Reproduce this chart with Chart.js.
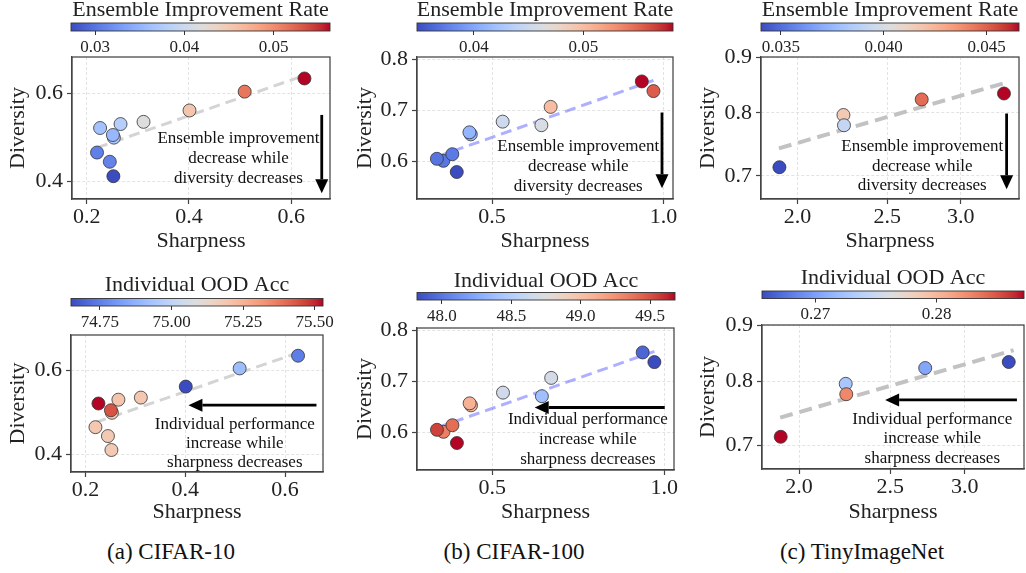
<!DOCTYPE html>
<html>
<head>
<meta charset="utf-8">
<script src="https://cdn.jsdelivr.net/npm/chart.js@4"></script>
<style>
html,body{margin:0;padding:0;background:#fff;width:1026px;height:573px;overflow:hidden;}
body{position:relative;font-family:'Liberation Serif','Times New Roman',serif;}
canvas{position:absolute;}
.cap{position:absolute;font-size:23px;color:#111;transform:translate(-50%,-50%);white-space:nowrap;font-family:'Liberation Serif','Times New Roman',serif;}
</style>
</head>
<body>
<div class="cap" style="left:171px;top:552px">(a) CIFAR-10</div>
<div class="cap" style="left:514px;top:552px">(b) CIFAR-100</div>
<div class="cap" style="left:862px;top:552px">(c) TinyImageNet</div>
<script>
// ---------------- DATA ----------------
// CIFAR-10
const cifar10Sharpness = [0.626, 0.509, 0.401, 0.311, 0.266, 0.226, 0.253, 0.251, 0.220, 0.245, 0.252];
const cifar10Diversity = [0.634, 0.604, 0.561, 0.535, 0.530, 0.521, 0.499, 0.505, 0.465, 0.444, 0.411];
const cifar10EnsembleRate = [0.0563, 0.0514, 0.0453, 0.0418, 0.0380, 0.0364, 0.0372, 0.0354, 0.0308, 0.0310, 0.0273];
const cifar10OodAcc = [74.75, 74.91, 74.649, 75.19, 75.20, 75.529, 75.19, 75.44, 75.19, 75.18, 75.18];
const cifar10TrendSharpness = [0.220, 0.626];
const cifar10TrendDiversity = [0.476, 0.641];
const cifar10XTicks = [0.2, 0.4, 0.6];
const cifar10YTicks = [0.4, 0.6];
const cifar10EnsTicks = [0.03, 0.04, 0.05];
const cifar10OodTicks = [74.75, 75.00, 75.25, 75.50];

// CIFAR-100
const cifar100Sharpness = [0.937, 0.971, 0.671, 0.531, 0.644, 0.438, 0.434, 0.358, 0.339, 0.384, 0.397];
const cifar100Diversity = [0.757, 0.738, 0.707, 0.678, 0.671, 0.653, 0.657, 0.601, 0.605, 0.614, 0.579];
const cifar100EnsembleRate = [0.0582, 0.0554, 0.0500, 0.0451, 0.0460, 0.0411, 0.0411, 0.0371, 0.0370, 0.0373, 0.0348];
const cifar100OodAcc = [47.93, 47.82, 48.69, 48.66, 48.38, 49.10, 49.10, 49.33, 49.55, 49.40, 49.68];
const cifar100TrendSharpness = [0.339, 0.971];
const cifar100TrendDiversity = [0.609, 0.759];
const cifar100XTicks = [0.5, 1.0];
const cifar100YTicks = [0.6, 0.7, 0.8];
const cifar100EnsTicks = [0.04, 0.05];
const cifar100OodTicks = [48.0, 48.5, 49.0, 49.5];

// TinyImageNet
const tinySharpness = [1.9125, 2.242, 2.245, 2.723, 3.340];
const tinyDiversity = [0.7130, 0.7962, 0.7791, 0.8228, 0.8332];
const tinyEnsembleRate = [0.03404, 0.0416, 0.0392, 0.0447, 0.04657];
const tinyOodAcc = [0.2872, 0.2727, 0.2827, 0.2704, 0.2656];
const tinyTrendSharpness = [1.91, 3.38];
const tinyTrendDiversity = [0.742, 0.854];
const tinyXTicks = [2.0, 2.5, 3.0];
const tinyYTicks = [0.7, 0.8, 0.9];
const tinyEnsTicks = [0.035, 0.040, 0.045];
const tinyOodTicks = [0.27, 0.28];

// ---------------- STYLE ----------------
const FONT = "'Liberation Serif','Times New Roman',serif";
Chart.defaults.font.family = FONT;
Chart.defaults.color = '#222';

const coolwarmTable = [
 [59,76,192],[68,90,204],[77,104,215],[87,117,225],[98,130,234],[108,142,241],[119,154,247],[130,165,251],
 [141,176,254],[152,185,255],[163,194,255],[174,201,253],[184,208,249],[194,213,244],[204,217,238],[213,219,230],
 [221,221,221],[229,216,209],[236,211,197],[241,204,184],[245,196,172],[247,187,160],[247,177,148],[247,166,135],
 [244,154,123],[241,141,111],[236,127,99],[229,112,88],[222,96,77],[213,80,66],[203,62,56],[192,40,47],[180,4,38]
];
function coolwarm(t){
  t = Math.max(0, Math.min(1, t));
  const n = coolwarmTable.length - 1;
  const f = t * n;
  const i = Math.min(Math.floor(f), n - 1);
  const r = f - i;
  const a = coolwarmTable[i], b = coolwarmTable[i + 1];
  return 'rgb(' + [0,1,2].map(k => Math.round(a[k] + (b[k] - a[k]) * r)).join(',') + ')';
}

const boxPlugin = {
  id: 'box',
  afterDraw(chart) {
    const a = chart.chartArea, ctx = chart.ctx;
    ctx.save();
    ctx.strokeStyle = '#444';
    ctx.lineWidth = 1.25;
    ctx.setLineDash([]);
    ctx.strokeRect(a.left, a.top, a.right - a.left, a.bottom - a.top);
    ctx.restore();
  }
};

function drawArrow(ctx, x1, y1, x2, y2) {
  const ang = Math.atan2(y2 - y1, x2 - x1);
  const hl = 14, hw = 6.5;
  const bx = x2 - hl * Math.cos(ang), by = y2 - hl * Math.sin(ang);
  ctx.save();
  ctx.strokeStyle = '#000'; ctx.fillStyle = '#000';
  ctx.lineWidth = 2.8;
  ctx.beginPath(); ctx.moveTo(x1, y1); ctx.lineTo(bx, by); ctx.stroke();
  ctx.beginPath();
  ctx.moveTo(x2, y2);
  ctx.lineTo(bx + hw * Math.sin(ang), by - hw * Math.cos(ang));
  ctx.lineTo(bx - hw * Math.sin(ang), by + hw * Math.cos(ang));
  ctx.closePath(); ctx.fill();
  ctx.restore();
}

const notePlugin = {
  id: 'note',
  afterDraw(chart, args, opts) {
    if (!opts || !opts.lines) return;
    const a = chart.chartArea, ctx = chart.ctx;
    const w = a.right - a.left, h = a.bottom - a.top;
    drawArrow(ctx, a.left + opts.arrow[0] * w, a.top + opts.arrow[1] * h,
                   a.left + opts.arrow[2] * w, a.top + opts.arrow[3] * h);
    ctx.save();
    ctx.font = '17px ' + FONT;
    ctx.fillStyle = '#111';
    ctx.textAlign = 'center';
    ctx.textBaseline = 'middle';
    opts.lines.forEach((s, i) => {
      ctx.fillText(s, a.left + opts.tx * w, a.top + opts.ty * h + i * opts.lh);
    });
    ctx.restore();
  }
};

const colorbarPlugin = {
  id: 'cbar',
  afterDraw(chart, args, opts) {
    const a = chart.chartArea, ctx = chart.ctx;
    ctx.save();
    const g = ctx.createLinearGradient(a.left, 0, a.right, 0);
    coolwarmTable.forEach((c, i) => g.addColorStop(i / (coolwarmTable.length - 1), 'rgb(' + c.join(',') + ')'));
    ctx.fillStyle = g;
    ctx.fillRect(a.left, a.top, a.right - a.left, a.bottom - a.top);
    ctx.strokeStyle = '#333';
    ctx.lineWidth = 0.9;
    ctx.strokeRect(a.left, a.top, a.right - a.left, a.bottom - a.top);
    ctx.font = '22px ' + FONT;
    ctx.fillStyle = '#222';
    ctx.textAlign = 'center';
    ctx.textBaseline = 'middle';
    ctx.fillText(opts.title, (a.left + a.right) / 2, opts.titleY);
    ctx.restore();
  }
};

function addCanvas(left, top, w, h) {
  const c = document.createElement('canvas');
  c.width = w; c.height = h;
  c.style.left = left + 'px'; c.style.top = top + 'px';
  c.style.width = w + 'px'; c.style.height = h + 'px';
  document.body.appendChild(c);
  return c;
}

function makeColorbar(rect, values, ticks, decimals, title, titleY) {
  const [L, T, R, B] = rect;
  const cl = Math.floor(L) - 30, ct = Math.floor(titleY) - 16;
  const W = Math.ceil(R - cl + 30), H = Math.ceil(B - ct + 30);
  const c = addCanvas(cl, ct, W, H);
  new Chart(c, {
    type: 'scatter',
    data: { datasets: [] },
    options: {
      responsive: false, animation: false, events: [],
      layout: { padding: { left: L - cl, right: W - (R - cl), top: T - ct, bottom: 0 } },
      plugins: { legend: { display: false }, tooltip: { enabled: false },
                 cbar: { title: title, titleY: titleY - ct } },
      scales: {
        x: {
          type: 'linear', position: 'bottom', bounds: 'data',
          min: Math.min(...values), max: Math.max(...values),
          afterBuildTicks: s => { s.ticks = ticks.map(v => ({ value: v })); },
          afterFit: s => { s.height = H - (B - ct); },
          ticks: { callback: v => Number(v).toFixed(decimals), font: { size: 17 }, padding: 2,
                   maxRotation: 0, autoSkip: false, color: '#222' },
          grid: { display: true, drawOnChartArea: false, drawTicks: true, tickLength: 4,
                  color: '#333', tickColor: '#333', tickWidth: 1 },
          border: { display: false }
        },
        y: { display: false, min: 0, max: 1 }
      }
    },
    plugins: [colorbarPlugin]
  });
}

function makeScatter(spec) {
  const [L, T, R, B] = spec.plot;
  const cl = Math.floor(spec.ylabX - 13.2) - 1;
  const padL = spec.ylabX - 13.2 - cl;
  const yw = L - cl - padL;
  const ct = T - 18;
  const xh = spec.xlabY + 13.2 - B;
  const W = Math.ceil(R - cl + 12);
  const H = Math.ceil(B - ct + xh + 4);
  const padR = W - (R - cl);
  const padB = H - (B - ct) - xh;
  const c = addCanvas(cl, ct, W, H);
  const cmin = Math.min(...spec.c), cmax = Math.max(...spec.c);
  const pts = spec.x.map((x, i) => ({ x: x, y: spec.y[i] }));
  const cols = spec.c.map(v => coolwarm((v - cmin) / (cmax - cmin)));
  const axisCommon = (ticks, title, fit) => ({
    type: spec.scaleType, bounds: 'data',
    afterBuildTicks: s => { s.ticks = ticks.map(v => ({ value: v })); },
    afterFit: fit,
    ticks: { callback: v => Number(v).toFixed(1), font: { size: 22 }, maxRotation: 0, autoSkip: false, color: '#222' },
    grid: { color: '#dcdcdc', lineWidth: 0.8, tickLength: 5, tickColor: '#444', tickWidth: 1.2 },
    border: { display: true, color: '#444', width: 1.2, dash: [3, 2] },
    title: { display: true, text: title, font: { size: 22 }, padding: 0, color: '#222' }
  });
  const xs = axisCommon(spec.xTicks, 'Sharpness', s => { s.height = xh; });
  xs.min = spec.xRange[0]; xs.max = spec.xRange[1]; xs.ticks.padding = 0;
  const ys = axisCommon(spec.yTicks, 'Diversity', s => { s.width = yw; });
  ys.min = spec.yRange[0]; ys.max = spec.yRange[1]; ys.ticks.padding = 4;
  new Chart(c, {
    type: 'scatter',
    data: {
      datasets: [
        { data: pts, backgroundColor: cols, borderColor: '#333', borderWidth: 0.8,
          pointRadius: 6.5, order: 0 },
        { data: spec.trendX.map((x, i) => ({ x: x, y: spec.trendY[i] })), showLine: true,
          borderColor: spec.trendColor, borderWidth: spec.trendWidth, borderDash: spec.trendDash,
          pointRadius: 0, fill: false, order: 1 }
      ]
    },
    options: {
      responsive: false, animation: false, events: [],
      layout: { padding: { left: padL, right: padR, top: T - ct, bottom: padB } },
      plugins: { legend: { display: false }, tooltip: { enabled: false }, note: spec.note },
      scales: { x: xs, y: ys }
    },
    plugins: [boxPlugin, notePlugin]
  });
  makeColorbar(spec.cb, spec.c, spec.cTicks, spec.cDecimals, spec.cTitle, spec.cbTitleY);
}

const topLines = ['Ensemble improvement', 'decrease while', 'diversity decreases'];
const botLines = ['Individual performance', 'increase while', 'sharpness decreases'];
const ENS = 'Ensemble Improvement Rate', OOD = 'Individual OOD Acc';

const panelA = { x: cifar10Sharpness, y: cifar10Diversity, trendX: cifar10TrendSharpness, trendY: cifar10TrendDiversity,
  xTicks: cifar10XTicks, yTicks: cifar10YTicks, xRange: [0.171, 0.676], yRange: [0.359, 0.683], scaleType: 'linear',
  trendColor: '#d4d4d4', trendWidth: 3, trendDash: [11, 6] };
const panelB = { x: cifar100Sharpness, y: cifar100Diversity, trendX: cifar100TrendSharpness, trendY: cifar100TrendDiversity,
  xTicks: cifar100XTicks, yTicks: cifar100YTicks, xRange: [0.281, 1.028], yRange: [0.526, 0.805], scaleType: 'linear',
  trendColor: 'rgba(95,95,255,0.5)', trendWidth: 3, trendDash: [11, 6] };
const panelC = { x: tinySharpness, y: tinyDiversity, trendX: tinyTrendSharpness, trendY: tinyTrendDiversity,
  xTicks: tinyXTicks, yTicks: tinyYTicks, xRange: [1.827, 3.467], yRange: [0.6667, 0.9], scaleType: 'logarithmic',
  trendColor: '#c2c2c2', trendWidth: 4, trendDash: [13, 7] };

makeScatter(Object.assign({}, panelA, { plot: [72, 57, 330, 199], ylabX: 18.3, xlabY: 241,
  c: cifar10EnsembleRate, cTicks: cifar10EnsTicks, cDecimals: 2, cTitle: ENS, cb: [71, 23, 330, 31], cbTitleY: 10,
  note: { lines: topLines, tx: 0.645, ty: 0.573, lh: 20, arrow: [0.968, 0.408, 0.968, 0.96] } }));
makeScatter(Object.assign({}, panelB, { plot: [417, 57, 673, 199], ylabX: 365, xlabY: 241,
  c: cifar100EnsembleRate, cTicks: cifar100EnsTicks, cDecimals: 2, cTitle: ENS, cb: [417, 23, 673, 31], cbTitleY: 10,
  note: { lines: topLines, tx: 0.63, ty: 0.631, lh: 19.8, arrow: [0.957, 0.391, 0.957, 0.924] } }));
makeScatter(Object.assign({}, panelC, { plot: [761, 57, 1019, 199], ylabX: 708.3, xlabY: 241,
  c: tinyEnsembleRate, cTicks: tinyEnsTicks, cDecimals: 3, cTitle: ENS, cb: [761, 23, 1019, 31], cbTitleY: 10,
  note: { lines: topLines, tx: 0.625, ty: 0.632, lh: 19.6, arrow: [0.952, 0.398, 0.952, 0.932] } }));
makeScatter(Object.assign({}, panelA, { plot: [71, 335, 323, 472], ylabX: 18.3, xlabY: 512,
  c: cifar10OodAcc, cTicks: cifar10OodTicks, cDecimals: 2, cTitle: OOD, cb: [71, 298.5, 323, 306], cbTitleY: 285,
  note: { lines: botLines, tx: 0.65, ty: 0.651, lh: 19.4, arrow: [0.974, 0.512, 0.466, 0.512] } }));
makeScatter(Object.assign({}, panelB, { plot: [417, 328, 674, 470], ylabX: 365, xlabY: 512,
  c: cifar100OodAcc, cTicks: cifar100OodTicks, cDecimals: 1, cTitle: OOD, cb: [417, 292.5, 675, 300], cbTitleY: 281.5,
  note: { lines: botLines, tx: 0.665, ty: 0.647, lh: 19.6, arrow: [0.964, 0.56, 0.458, 0.56] } }));
makeScatter(Object.assign({}, panelC, { plot: [762, 325, 1024, 469], ylabX: 708.3, xlabY: 512,
  c: tinyOodAcc, cTicks: tinyOodTicks, cDecimals: 2, cTitle: OOD, cb: [762, 291, 1024, 298.5], cbTitleY: 278.5,
  note: { lines: botLines, tx: 0.65, ty: 0.653, lh: 19.8, arrow: [0.973, 0.52, 0.47, 0.52] } }));
</script>
</body>
</html>
